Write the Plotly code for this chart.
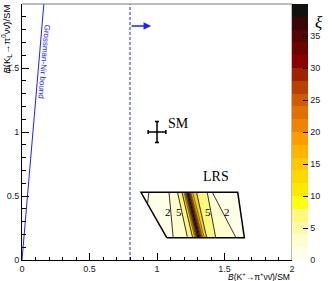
import plotly.graph_objects as go

# ---------------- data ----------------
# palette (20 steps of 2 units, 0..40)
palette = ['#fffee8', '#fffcce', '#fffaa8', '#fff880', '#ffff10',
           '#ffe800', '#ffd800', '#ffc800', '#ffb400', '#ff9c00',
           '#f08400', '#e07000', '#d05a00', '#b84000', '#a02200',
           '#880000', '#6c0404', '#520606', '#380606', '#141010']
zmin, zmax = 0, 40

# LRS region (parallelogram) corners
lrs_x = [1.072, 1.647, 1.598, 0.881]
lrs_y = [0.174, 0.174, 0.529, 0.529]
y_bot, y_top = 0.174, 0.529

# contour boundaries: x at top edge and bottom edge (left to right)
bnd_level = [None, 1, 2, 5, 10, 15, 20, 25, 30, 35, 35, 30, 25, 20, 15, 10, 5, 2, None]
bnd_xtop = [0.80, 0.940, 1.089, 1.152, 1.185, 1.200, 1.208, 1.214, 1.219, 1.224,
            1.232, 1.237, 1.243, 1.251, 1.265, 1.293, 1.372, 1.410, 1.75]
bnd_xbot = [0.80, 0.900, 1.120, 1.226, 1.264, 1.280, 1.289, 1.296, 1.301, 1.306,
            1.316, 1.322, 1.329, 1.338, 1.350, 1.368, 1.435, 1.585, 1.75]
band_z = [0.5, 1.5, 3.5, 7.5, 12.5, 17.5, 22.5, 27.5, 32.5, 38.5,
          32.5, 27.5, 22.5, 17.5, 12.5, 7.5, 3.5, 1.5]

# contour labels
lab_text = ['2', '5', '5', '2']
lab_x = [1.078, 1.165, 1.375, 1.515]
lab_y = [0.377, 0.377, 0.377, 0.377]

# Grossman-Nir bound
gn_x = [0.0, 0.162]
gn_y = [0.0, 2.0]

# experimental limit (dashed) and arrow
lim_x = [0.8, 0.8]
lim_y = [0.0, 2.0]
arrow_from, arrow_to, arrow_y = 0.8, 0.956, 1.828

# SM point
sm_x, sm_y = [1.0], [1.0]
sm_ex, sm_ey = [0.0656], [0.082]

xticks = [0, 0.5, 1, 1.5, 2]
xtick_text = ['0', '0.5', '1', '1.5', '2']
yticks = [0, 0.5, 1, 1.5, 2]
ytick_text = ['0', '0.5', '1', '1.5', '2']
cb_ticks = [0, 5, 10, 15, 20, 25, 30, 35, 40]


# ---------------- helpers ----------------
def cross(o, a, b):
    return (a[0] - o[0]) * (b[1] - o[1]) - (a[1] - o[1]) * (b[0] - o[0])


def intersect(p, q, a, b):
    dpx, dpy = q[0] - p[0], q[1] - p[1]
    dax, day = b[0] - a[0], b[1] - a[1]
    den = dpx * day - dpy * dax
    t = ((a[0] - p[0]) * day - (a[1] - p[1]) * dax) / den
    return (p[0] + t * dpx, p[1] + t * dpy)


def clip_poly(subject, clip):
    out = subject
    n = len(clip)
    for i in range(n):
        a, b = clip[i], clip[(i + 1) % n]
        inp = out
        out = []
        if not inp:
            break
        for j in range(len(inp)):
            p, q = inp[j - 1], inp[j]
            pin = cross(a, b, p) >= 0
            qin = cross(a, b, q) >= 0
            if qin:
                if not pin:
                    out.append(intersect(p, q, a, b))
                out.append(q)
            elif pin:
                out.append(intersect(p, q, a, b))
    return out


def clip_seg(p0, p1, clip):
    t0, t1 = 0.0, 1.0
    d = (p1[0] - p0[0], p1[1] - p0[1])
    n = len(clip)
    for i in range(n):
        a, b = clip[i], clip[(i + 1) % n]
        nx, ny = -(b[1] - a[1]), (b[0] - a[0])
        num = nx * (p0[0] - a[0]) + ny * (p0[1] - a[1])
        den = nx * d[0] + ny * d[1]
        if abs(den) < 1e-12:
            if num < 0:
                return None
            continue
        t = -num / den
        if den > 0:
            t0 = max(t0, t)
        else:
            t1 = min(t1, t)
    if t0 >= t1:
        return None
    return ((p0[0] + t0 * d[0], p0[1] + t0 * d[1]),
            (p0[0] + t1 * d[0], p0[1] + t1 * d[1]))


def color_of(z):
    k = int((z - zmin) / (zmax - zmin) * len(palette))
    return palette[max(0, min(len(palette) - 1, k))]


clip_region = list(zip(lrs_x, lrs_y))

fig = go.Figure()

# filled bands
for i in range(len(band_z)):
    quad = [(bnd_xbot[i], y_bot), (bnd_xbot[i + 1], y_bot),
            (bnd_xtop[i + 1], y_top), (bnd_xtop[i], y_top)]
    poly = clip_poly(quad, clip_region)
    if len(poly) < 3:
        continue
    xs = [p[0] for p in poly] + [poly[0][0]]
    ys = [p[1] for p in poly] + [poly[0][1]]
    fig.add_trace(go.Scatter(x=xs, y=ys, mode='lines', fill='toself',
                             fillcolor=color_of(band_z[i]),
                             line=dict(width=0, color=color_of(band_z[i])),
                             hoverinfo='skip', showlegend=False))

# contour lines
for i in range(len(bnd_level)):
    if bnd_level[i] is None:
        continue
    seg = clip_seg((bnd_xbot[i], y_bot), (bnd_xtop[i], y_top), clip_region)
    if seg is None:
        continue
    w = 0.8 if bnd_level[i] <= 10 else 0.5
    fig.add_trace(go.Scatter(x=[seg[0][0], seg[1][0]], y=[seg[0][1], seg[1][1]],
                             mode='lines', line=dict(color='black', width=w),
                             hoverinfo='skip', showlegend=False))

# region outline
fig.add_trace(go.Scatter(x=lrs_x + [lrs_x[0]], y=lrs_y + [lrs_y[0]], mode='lines',
                         line=dict(color='black', width=1.5),
                         hoverinfo='skip', showlegend=False))

# Grossman-Nir line
fig.add_trace(go.Scatter(x=gn_x, y=gn_y, mode='lines',
                         line=dict(color='#1f1fff', width=1),
                         hoverinfo='skip', showlegend=False))

# dashed limit
fig.add_trace(go.Scatter(x=lim_x, y=lim_y, mode='lines',
                         line=dict(color='#1f1fff', width=1, dash='3px,2px'),
                         hoverinfo='skip', showlegend=False))

# SM point
fig.add_trace(go.Scatter(x=sm_x, y=sm_y, mode='markers',
                         marker=dict(size=1, color='black'),
                         error_x=dict(type='data', array=sm_ex, color='black',
                                      thickness=1.5, width=2),
                         error_y=dict(type='data', array=sm_ey, color='black',
                                      thickness=1.5, width=2),
                         hoverinfo='skip', showlegend=False))

# colorbar carrier
cscale = []
for i, c in enumerate(palette):
    cscale.append([i / len(palette), c])
    cscale.append([(i + 1) / len(palette), c])
fig.add_trace(go.Scatter(x=[1.0], y=[1.0], mode='markers',
                         marker=dict(size=1, opacity=0, color=[20],
                                     colorscale=cscale, cmin=zmin, cmax=zmax,
                                     showscale=True,
                                     colorbar=dict(x=1.0, xanchor='left', xpad=0,
                                                   y=0.5, yanchor='middle', ypad=0,
                                                   len=1, lenmode='fraction',
                                                   thickness=16, thicknessmode='pixels',
                                                   outlinewidth=0,
                                                   tickvals=cb_ticks,
                                                   ticks='inside', ticklen=5,
                                                   tickcolor='black', tickwidth=1,
                                                   tickfont=dict(family='Liberation Sans',
                                                                 size=9, color='#222'))),
                         hoverinfo='skip', showlegend=False))

ann = []
# contour labels
for t, x, y in zip(lab_text, lab_x, lab_y):
    ann.append(dict(x=x, y=y, xref='x', yref='y', text=t, showarrow=False,
                    font=dict(family='Liberation Serif', size=11, color='black')))
# arrow
ann.append(dict(x=arrow_to, y=arrow_y, ax=arrow_from, ay=arrow_y,
                xref='x', yref='y', axref='x', ayref='y', text='',
                showarrow=True, arrowhead=2, arrowsize=1, arrowwidth=1.5,
                arrowcolor='#1f1fff'))
ann.append(dict(x=0.159, y=1.547, xref='x', yref='y', text='Grossman-Nir bound',
                showarrow=False, textangle=95,
                font=dict(family='Liberation Sans', size=8, color='#1f1fff')))
ann.append(dict(x=1.161, y=1.07, xref='x', yref='y', text='SM', showarrow=False,
                font=dict(family='Liberation Serif', size=14, color='black')))
ann.append(dict(x=1.437, y=0.651, xref='x', yref='y', text='LRS', showarrow=False,
                font=dict(family='Liberation Serif', size=14, color='black')))
# axis titles
ann.append(dict(x=2, y=-0.0625, xref='x', yref='paper', xanchor='right',
                yanchor='middle', showarrow=False,
                text='<i>B</i>(K<sup>+</sup>→π<sup>+</sup>νν\u0304)/SM',
                font=dict(family='Liberation Sans', size=8.5, color='black')))
ann.append(dict(x=-0.058, y=1.005, xref='paper', yref='paper', xanchor='center',
                yanchor='top', showarrow=False, textangle=-90,
                text='<i>B</i>(K<sub>L</sub>→π<sup>0</sup>νν\u0304)/SM',
                font=dict(family='Liberation Sans', size=9.5, color='black')))
# xi
ann.append(dict(x=1.124, y=0.971, xref='paper', yref='paper', showarrow=False,
                text='<i>ξ</i>',
                font=dict(family='Liberation Serif', size=17, color='black')))

axis_common = dict(showline=True, linecolor='black', linewidth=1, mirror=False,
                   ticks='inside', ticklen=7, tickcolor='black', tickwidth=1,
                   showgrid=False, zeroline=False, automargin=False,
                   tickfont=dict(family='Liberation Sans', size=9, color='#222'),
                   minor=dict(ticks='inside', ticklen=3.5, dtick=0.1,
                              tickcolor='black', tickwidth=1, showgrid=False))

frame_shapes = [
    dict(type='line', xref='paper', yref='paper', x0=0, x1=1, y0=1, y1=1,
         line=dict(color='#7a7a7a', width=1.2)),
    dict(type='line', xref='paper', yref='paper', x0=1, x1=1, y0=0, y1=1,
         line=dict(color='#7a7a7a', width=1)),
]

fig.update_layout(
    template='none',
    width=332, height=281,
    margin=dict(l=22, r=40, t=4, b=21, autoexpand=False),
    paper_bgcolor='white', plot_bgcolor='white',
    showlegend=False,
    xaxis=dict(range=[0, 2], tickvals=xticks, ticktext=xtick_text, **axis_common),
    yaxis=dict(range=[0, 2], tickvals=yticks, ticktext=ytick_text, **axis_common),
    annotations=ann,
    shapes=frame_shapes,
)

fig.write_html('out.html', config={'displayModeBar': False},
               post_script="document.body.style.margin='0px';")
